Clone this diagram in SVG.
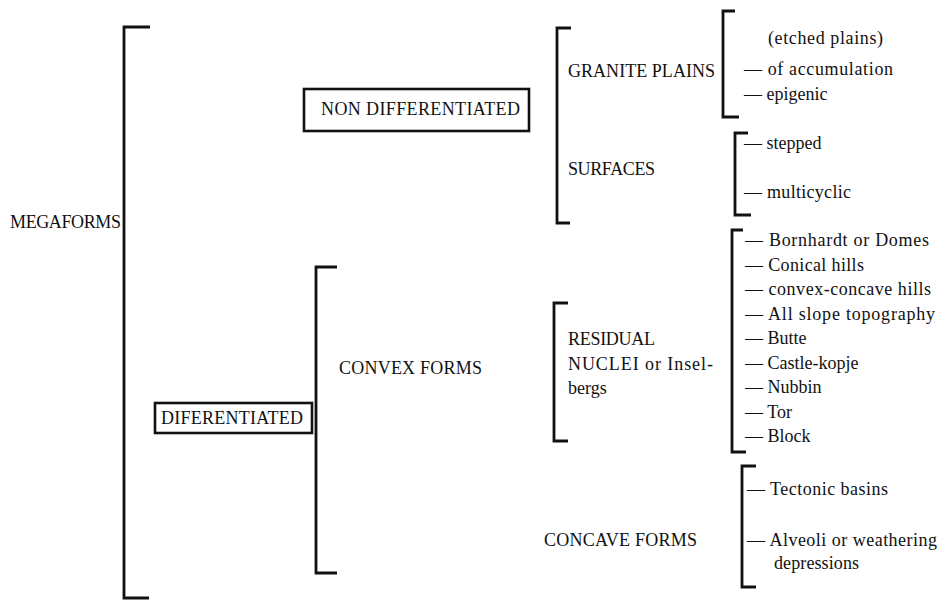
<svg xmlns="http://www.w3.org/2000/svg" width="942" height="601" viewBox="0 0 942 601">
  <style>
    text { font-family: "Liberation Serif", "Times New Roman", serif; font-size: 18px; fill: #111; }
    .br { fill: none; stroke: #111; stroke-width: 2.8; stroke-linejoin: miter; stroke-linecap: butt; }
    .box { fill: #fff; stroke: #111; stroke-width: 2.6; }
  </style>
  <rect width="942" height="601" fill="#fff"/>

  <!-- brackets joining each level of the classification -->
  <g id="connectors">
    <path class="br" d="M150,27 H124 V598 H149"/>
    <path class="br" d="M337,267 H316 V573 H337"/>
    <path class="br" d="M571,28 H557 V223 H570"/>
    <path class="br" d="M735,11 H723 V117 H739"/>
    <path class="br" d="M748,133 H735 V215 H751"/>
    <path class="br" d="M568,303 H554 V441 H568"/>
    <path class="br" d="M743,230 H732 V452 H746"/>
    <path class="br" d="M756,466 H742 V587 H756"/>
  </g>

  <g id="megaforms">
    <text x="10" y="228" textLength="111">MEGAFORMS</text>
  </g>

  <g id="non-differentiated">
    <rect class="box" x="304" y="89" width="225" height="42"/>
    <text x="321" y="115" textLength="199">NON DIFFERENTIATED</text>
  </g>

  <g id="differentiated">
    <rect class="box" x="155" y="403" width="157" height="30"/>
    <text x="161" y="424" textLength="142">DIFERENTIATED</text>
  </g>

  <g id="granite-plains">
    <text x="568" y="77" textLength="147">GRANITE PLAINS</text>
  </g>

  <g id="granite-plains-types">
    <text x="768" y="44" textLength="115">(etched plains)</text>
    <text x="744" y="75" textLength="149">— of accumulation</text>
    <text x="744" y="100">— epigenic</text>
  </g>

  <g id="surfaces">
    <text x="568" y="175" textLength="87">SURFACES</text>
  </g>

  <g id="surfaces-types">
    <text x="744" y="149">— stepped</text>
    <text x="744" y="198" textLength="107">— multicyclic</text>
  </g>

  <g id="convex-forms">
    <text x="339" y="374" textLength="143">CONVEX FORMS</text>
  </g>

  <g id="residual-nuclei">
    <text x="568" y="345" textLength="87">RESIDUAL</text>
    <text x="568" y="370" textLength="145">NUCLEI or Insel-</text>
    <text x="568" y="394">bergs</text>
  </g>

  <g id="residual-types">
    <text x="745" y="246" textLength="184">— Bornhardt or Domes</text>
    <text x="745" y="270.5" textLength="119">— Conical hills</text>
    <text x="745" y="295" textLength="186">— convex-concave hills</text>
    <text x="745" y="319.5" textLength="190">— All slope topography</text>
    <text x="745" y="344">— Butte</text>
    <text x="745" y="368.5">— Castle-kopje</text>
    <text x="745" y="393">— Nubbin</text>
    <text x="745" y="417.5">— Tor</text>
    <text x="745" y="442">— Block</text>
  </g>

  <g id="concave-forms">
    <text x="544" y="546" textLength="153">CONCAVE FORMS</text>
  </g>

  <g id="concave-types">
    <text x="747" y="495" textLength="141">— Tectonic basins</text>
    <text x="747" y="546" textLength="190">— Alveoli or weathering</text>
    <text x="774" y="569" textLength="85">depressions</text>
  </g>
</svg>
